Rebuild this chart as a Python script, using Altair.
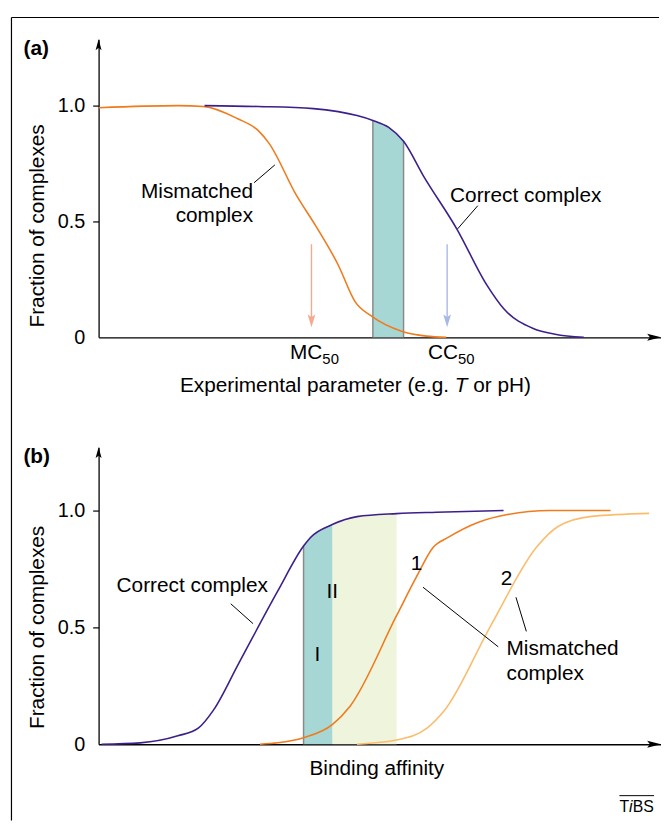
import altair as alt
import pandas as pd

FONT = "Liberation Sans"
PURPLE = "#3d1f8a"
ORANGE = "#f07b1c"
LIGHT_ORANGE = "#fbbd6c"
TEAL = "#a7d7d5"
PALE_GREEN = "#eef5dc"
GRAY = "#8a8a8a"
SALMON = "#f6a98c"
LIGHT_BLUE = "#a7b9e4"

# ---------------- Panel (a) data ----------------
a_mis_x = [0, 80, 106, 140, 161, 172, 200, 219, 242, 259, 276, 306, 331, 351]
a_mis_y = [0.991, 1.0, 0.996, 0.944, 0.893, 0.838, 0.611, 0.483, 0.312, 0.154, 0.090, 0.026, 0.005, 0.0]
a_cor_x = [107, 161, 217, 242, 261, 277, 293, 308, 328, 362, 392, 409, 439, 461, 490]
a_cor_y = [1.0, 0.996, 0.987, 0.974, 0.957, 0.936, 0.906, 0.846, 0.697, 0.466, 0.226, 0.124, 0.038, 0.013, 0.0]
a_band_x = [277, 293, 308]
a_band_y = [0.936, 0.906, 0.846]
a_arrow_x = [215, 352]
a_arrow_colors = [SALMON, LIGHT_BLUE]
a_arrow_top = 0.402
a_arrow_bottom = 0.07
a_arrow_tip = 0.043

# ---------------- Panel (b) data ----------------
b_cor_x = [3, 42, 80, 101, 116, 141, 181, 207, 214, 236, 261, 301, 341, 409]
b_cor_y = [0.0, 0.006, 0.036, 0.070, 0.146, 0.342, 0.656, 0.848, 0.885, 0.940, 0.974, 0.987, 0.993, 1.0]
b_mis1_x = [163, 181, 207, 236, 254, 301, 321, 338, 353, 383, 413, 456, 517]
b_mis1_y = [0.0, 0.006, 0.028, 0.084, 0.163, 0.551, 0.716, 0.843, 0.885, 0.949, 0.983, 1.0, 1.0]
b_mis2_x = [261, 302, 332, 349, 396, 443, 464, 498, 556]
b_mis2_y = [0.0, 0.019, 0.070, 0.143, 0.507, 0.847, 0.932, 0.975, 0.988]
b_teal_x = [207, 214, 236]
b_teal_y = [0.848, 0.885, 0.940]
b_green_x = [236, 261, 301]
b_green_y = [0.940, 0.974, 0.987]

XDOM = [0, 568]
A_YDOM = [0, 1.2863]
B_YDOM = [0, 1.2712]
A_H, B_H, W = 301, 300, 568

UP_ARROW = "M0,-1L0.55,1L0,0.55L-0.55,1Z"
RIGHT_ARROW = "M1,0L-1,-0.5L-0.6,0L-1,0.5Z"
DOWN_ARROW = "M0,1L-0.6,-1L0,-0.6L0.6,-1Z"


def encodings(ydom, title_y):
    X = alt.X("x:Q", scale=alt.Scale(domain=XDOM, nice=False, zero=False),
              axis=alt.Axis(title=None, labels=False, ticks=False, domain=True,
                            domainColor="black", domainWidth=1.3))
    Y = alt.Y("y:Q", scale=alt.Scale(domain=ydom, nice=False, zero=False),
              axis=alt.Axis(values=[0, 0.5, 1.0],
                            labelExpr="datum.value == 0 ? '0' : format(datum.value, '.1f')",
                            title="Fraction of complexes", titleX=-56, titleY=title_y,
                            titleAngle=270, titleAlign="center", titleBaseline="alphabetic",
                            titleFontSize=21, titleFontWeight="normal", labelFontSize=20,
                            tickSize=6, labelPadding=8, tickWidth=1.2,
                            tickColor={"condition": {"test": "datum.value == 0", "value": "transparent"},
                                       "value": "black"},
                            domainColor="black", domainWidth=1.3))
    return X, Y


def line(xs, ys, color, X, Y):
    return alt.Chart(pd.DataFrame({"x": xs, "y": ys})).mark_line(
        color=color, strokeWidth=1.6, interpolate="monotone").encode(x=X, y=Y)


def area(xs, ys, color, X, Y):
    d = pd.DataFrame({"x": xs, "y": ys, "y0": [0] * len(xs)})
    return alt.Chart(d).mark_area(color=color, opacity=1, interpolate="monotone").encode(
        x=X, y=Y, y2=alt.Y2("y0:Q"))


def rules(x1, y1, x2, y2, X, Y, color="black", width=1.0):
    d = pd.DataFrame({"x": x1, "y": y1, "x2": x2, "y2": y2})
    return alt.Chart(d).mark_rule(color=color, strokeWidth=width).encode(
        x=X, y=Y, x2=alt.X2("x2:Q"), y2=alt.Y2("y2:Q"))


def texts(xs, ys, labels, X, Y, align="left", size=21, weight="normal", style="normal"):
    d = pd.DataFrame({"x": xs, "y": ys, "t": labels})
    return alt.Chart(d).mark_text(align=align, baseline="alphabetic", font=FONT, fontSize=size,
                                  fontWeight=weight, fontStyle=style, color="black").encode(
        x=X, y=Y, text="t:N")


def arrowhead(xs, ys, shape, size, X, Y, color="black", xoff=0, yoff=0):
    d = pd.DataFrame({"x": xs, "y": ys})
    return alt.Chart(d).mark_point(shape=shape, size=size, filled=True, color=color, opacity=1,
                                   strokeWidth=0, xOffset=xoff, yOffset=yoff).encode(x=X, y=Y)


# ---------------- Panel (a) ----------------
Xa, Ya = encodings(A_YDOM, 188)
a_layers = [
    area(a_band_x, a_band_y, TEAL, Xa, Ya),
    rules([a_band_x[0], a_band_x[-1]], [0, 0], [a_band_x[0], a_band_x[-1]],
          [a_band_y[0], a_band_y[-1]], Xa, Ya, color=GRAY, width=1.5),
    line(a_mis_x, a_mis_y, ORANGE, Xa, Ya),
    line(a_cor_x, a_cor_y, PURPLE, Xa, Ya),
]
for ax, col in zip(a_arrow_x, a_arrow_colors):
    a_layers.append(rules([ax], [a_arrow_top], [ax], [a_arrow_bottom], Xa, Ya, color=col, width=1.4))
    a_layers.append(arrowhead([ax], [a_arrow_tip], DOWN_ARROW, 169, Xa, Ya, color=col, yoff=-6.5))
a_layers += [
    rules([157, 383], [0.667, 0.568], [178, 362.6], [0.744, 0.468], Xa, Ya),
    texts([156, 156, 226, 363], [0.603, 0.496, -0.094, -0.094],
          ["Mismatched", "complex", "MC", "CC"], Xa, Ya, align="right"),
    texts([355], [0.585], ["Correct complex"], Xa, Ya, align="left"),
    texts([226, 363], [-0.115, -0.115], ["50", "50"], Xa, Ya, align="left", size=15),
    texts([353.9], [-0.235], ["Experimental parameter (e.g."], Xa, Ya, align="right"),
    texts([359.7], [-0.235], ["T"], Xa, Ya, align="left", style="italic"),
    texts([378.3], [-0.235], ["or pH)"], Xa, Ya, align="left"),
    texts([-63], [1.218], ["(a)"], Xa, Ya, align="center", weight="bold"),
    # frame (top and left edges of the figure box)
    rules([-88, -88], [1.3803, 1.3803], [566, -88], [1.3803, -2.0855], Xa, Ya, width=1.2),
    arrowhead([0], [A_YDOM[1]], UP_ARROW, 121, Xa, Ya, yoff=5.5),
    arrowhead([XDOM[1]], [0], RIGHT_ARROW, 196, Xa, Ya, xoff=-7),
]
panel_a = alt.layer(*a_layers).properties(width=W, height=A_H)

# ---------------- Panel (b) ----------------
Xb, Yb = encodings(B_YDOM, 181.5)
b_layers = [
    area(b_green_x, b_green_y, PALE_GREEN, Xb, Yb),
    area(b_teal_x, b_teal_y, TEAL, Xb, Yb),
    rules([b_teal_x[0]], [0], [b_teal_x[0]], [b_teal_y[0]], Xb, Yb, color=GRAY, width=1.5),
    line(b_cor_x, b_cor_y, PURPLE, Xb, Yb),
    line(b_mis1_x, b_mis1_y, ORANGE, Xb, Yb),
    line(b_mis2_x, b_mis2_y, LIGHT_ORANGE, Xb, Yb),
    rules([133.5, 327.6, 421.5], [0.601, 0.672, 0.629], [156, 403.6, 432], [0.516, 0.417, 0.483], Xb, Yb),
    texts([171], [0.652], ["Correct complex"], Xb, Yb, align="right"),
    texts([412, 412], [0.380, 0.274], ["Mismatched", "complex"], Xb, Yb, align="left"),
    texts([236, 221, 321, 412], [0.626, 0.355, 0.745, 0.682], ["II", "I", "1", "2"], Xb, Yb, align="center"),
    texts([281], [-0.130], ["Binding affinity"], Xb, Yb, align="center"),
    texts([-62.5], [1.204], ["(b)"], Xb, Yb, align="center", weight="bold"),
    texts([526], [-0.288], ["T"], Xb, Yb, align="left", size=16),
    texts([535.8], [-0.288], ["i"], Xb, Yb, align="left", size=16, style="italic"),
    texts([539.4], [-0.288], ["BS"], Xb, Yb, align="left", size=16),
    rules([526], [-0.220], [561], [-0.220], Xb, Yb, width=1.0),
    arrowhead([0], [B_YDOM[1]], UP_ARROW, 121, Xb, Yb, yoff=5.5),
    arrowhead([XDOM[1]], [0], RIGHT_ARROW, 196, Xb, Yb, xoff=-7),
]
panel_b = alt.layer(*b_layers).properties(width=W, height=B_H)

chart = alt.vconcat(panel_a, panel_b, spacing=111, bounds="flush").properties(
    padding={"left": 2.5, "top": 4.5, "right": 0, "bottom": 0}
).configure_view(stroke=None).configure_axis(
    grid=False, labelFont=FONT, titleFont=FONT, labelColor="black", titleColor="black"
)

chart.save("out.html", embed_options={"renderer": "svg", "actions": False})
